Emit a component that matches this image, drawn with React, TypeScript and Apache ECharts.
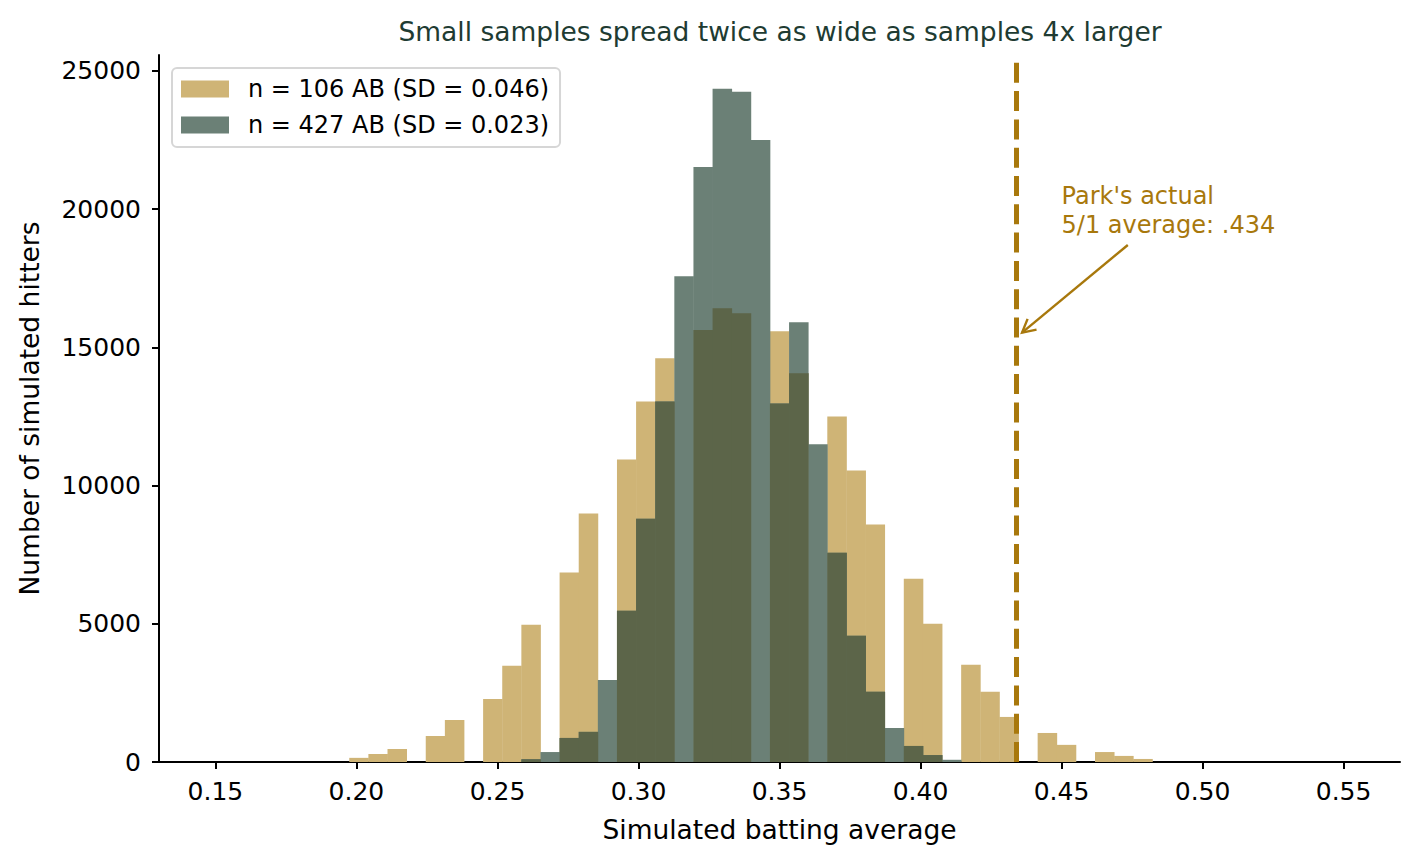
import * as echarts from "echarts";
import { useEffect, useRef } from "react";

// histogram bins: 59 equal bins from 0.15 to 0.55, counts below start at bin 7
const BIN_START = 0.15;
const BIN_WIDTH = 0.4 / 59;
const FIRST_BIN = 7;

const small = [
  150, 290, 470, 0, 940, 1520, 0, 2280, 3480, 4960, 0, 6850, 8990, 0, 10940, 13040, 14600, 0, 15620, 16410, 16230, 0,
  15580, 14060, 0, 12500, 10540, 8590, 0, 6630, 5000, 0, 3520, 2540, 1630, 0, 1050, 620, 0, 360, 220, 110,
];
const large = [
  0, 0, 0, 0, 0, 0, 0, 0, 0, 100, 360, 870, 1090, 2970, 5470, 8800, 13040, 17570, 21520, 24350, 24240, 22500, 12970,
  15900, 11490, 7570, 4570, 2540, 1230, 580, 250, 80, 0, 0, 0, 0, 0, 0, 0, 0, 0, 0,
];

const xTicks = [0.15, 0.2, 0.25, 0.3, 0.35, 0.4, 0.45, 0.5, 0.55];
const yTicks = [0, 5000, 10000, 15000, 20000, 25000];

const names = ["n = 106 AB (SD = 0.046)", "n = 427 AB (SD = 0.023)"];
const parkAvg = 0.434;
const arrowFrom = [0.4735, 18700];
const arrowTo = [0.436, 15530];
const noteAt = [0.45, 21000];

const TAN = "#cfb476";
const GREY = "#6b8076";
const OLIVE = "#5c6549";
const GOLD = "#a8780c";
const FONT = '"DejaVu Sans", sans-serif';

const toBins = (vals: number[]) =>
  vals
    .map((v, i) => {
      const x0 = BIN_START + (FIRST_BIN + i) * BIN_WIDTH;
      return [x0, x0 + BIN_WIDTH, v];
    })
    .filter((d) => d[2] > 0);

const histSeries = (name: string, vals: number[], color: string) => ({
  name,
  type: "custom",
  data: toBins(vals),
  encode: { x: [0, 1], y: 2 },
  itemStyle: { color },
  silent: true,
  renderItem: (_p: any, api: any) => {
    const a = api.coord([api.value(0), api.value(2)]);
    const b = api.coord([api.value(1), 0]);
    return {
      type: "rect",
      shape: { x: a[0], y: a[1], width: b[0] - a[0] + 0.4, height: b[1] - a[1] },
      style: { fill: color },
    };
  },
});

const App = () => {
  const chartRef = useRef(null);

  useEffect(() => {
    document.body.style.margin = "0";
    if (!chartRef.current) return;
    const myChart = echarts.init(chartRef.current, null, { renderer: "svg" });

    const overlap = small.map((v, i) => Math.min(v, large[i]));

    const option = {
      animation: false,
      title: {
        text: "Small samples spread twice as wide as samples 4x larger",
        left: 780,
        top: 18,
        padding: 0,
        textAlign: "center",
        textStyle: { fontFamily: FONT, fontSize: 26.5, fontWeight: "normal", color: "#203b32" },
      },
      legend: {
        data: names,
        orient: "vertical",
        left: 172,
        top: 68,
        padding: [8, 11, 9, 9],
        itemWidth: 48,
        itemHeight: 17,
        itemGap: 10,
        icon: "rect",
        borderColor: "#d6d6d6",
        borderWidth: 2,
        borderRadius: 5,
        selectedMode: false,
        textStyle: { fontFamily: FONT, fontSize: 24, color: "#000", lineHeight: 26, padding: [0, 0, 0, 14] },
      },
      grid: { left: 159, right: 20, top: 55, bottom: 101 },
      xAxis: {
        type: "value",
        min: 0.13,
        max: 0.57,
        name: "Simulated batting average",
        nameLocation: "middle",
        nameGap: 54,
        nameTextStyle: { fontFamily: FONT, fontSize: 26.5, color: "#000" },
        axisLine: { show: true, onZero: false, lineStyle: { color: "#000", width: 2 } },
        axisTick: { show: true, length: 7, lineStyle: { color: "#000", width: 2 }, customValues: xTicks },
        axisLabel: {
          fontFamily: FONT,
          fontSize: 25,
          color: "#000",
          margin: 17,
          customValues: xTicks,
          formatter: (v: number) => v.toFixed(2),
        },
        splitLine: { show: false },
      },
      yAxis: {
        type: "value",
        min: 0,
        max: 25570,
        name: "Number of simulated hitters",
        nameLocation: "middle",
        nameGap: 116,
        nameTextStyle: { fontFamily: FONT, fontSize: 26.5, color: "#000" },
        axisLine: { show: true, lineStyle: { color: "#000", width: 2 } },
        axisTick: { show: true, length: 7, lineStyle: { color: "#000", width: 2 }, customValues: yTicks },
        axisLabel: {
          fontFamily: FONT,
          fontSize: 25,
          color: "#000",
          margin: 18,
          customValues: yTicks,
          formatter: (v: number) => String(v),
        },
        splitLine: { show: false },
      },
      series: [
        histSeries(names[0], small, TAN),
        histSeries(names[1], large, GREY),
        histSeries("overlap", overlap, OLIVE),
        {
          name: "park",
          type: "line",
          data: [],
          markLine: {
            silent: true,
            symbol: ["none", "none"],
            label: { show: false },
            lineStyle: { color: GOLD, width: 5, type: [20, 8.3] },
            data: [[{ coord: [parkAvg, 0] }, { coord: [parkAvg, 25570] }]],
          },
        },
      ],
    };

    myChart.setOption(option);

    // annotation arrow + note
    const s = myChart.convertToPixel({ gridIndex: 0 }, arrowFrom) as number[];
    const t = myChart.convertToPixel({ gridIndex: 0 }, arrowTo) as number[];
    const n = myChart.convertToPixel({ gridIndex: 0 }, noteAt) as number[];
    const dx = t[0] - s[0];
    const dy = t[1] - s[1];
    const len = Math.hypot(dx, dy);
    const ux = dx / len;
    const uy = dy / len;
    const hl = 13;
    const hw = 7;
    const bx = t[0] - ux * hl;
    const by = t[1] - uy * hl;
    myChart.setOption({
      graphic: [
        {
          type: "line",
          shape: { x1: s[0], y1: s[1], x2: t[0], y2: t[1] },
          style: { stroke: GOLD, lineWidth: 2.4 },
          silent: true,
        },
        {
          type: "polyline",
          shape: {
            points: [
              [bx - uy * hw, by + ux * hw],
              [t[0], t[1]],
              [bx + uy * hw, by - ux * hw],
            ],
          },
          style: { stroke: GOLD, lineWidth: 2.4, fill: "none" },
          silent: true,
        },
        {
          type: "text",
          x: n[0],
          y: n[1],
          style: {
            text: "Park's actual\n5/1 average: .434",
            fill: GOLD,
            font: `24px ${FONT}`,
            lineHeight: 29,
            align: "left",
            verticalAlign: "top",
          },
          silent: true,
        },
      ],
    });

    return () => {
      myChart.dispose();
    };
  }, []);

  return <div ref={chartRef} style={{ width: "1420px", height: "863px" }} />;
};

export default App;
